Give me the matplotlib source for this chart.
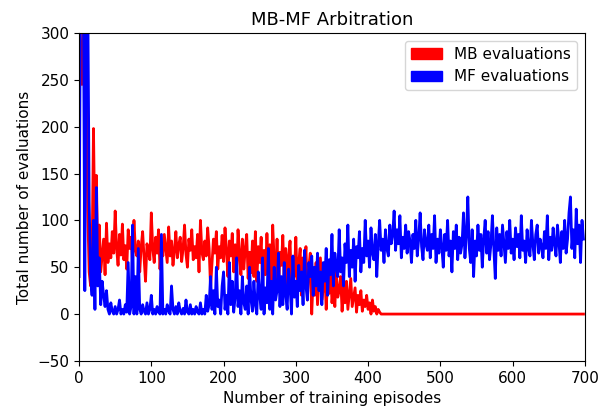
import matplotlib
matplotlib.use("Agg")
import matplotlib.pyplot as plt
from matplotlib.patches import Patch

episodes = list(range(0, 700, 2))

mb_evals = [
    350, 275, 245, 310, 330, 250, 110, 45, 30, 60,
    198, 75, 148, 55, 95, 45, 62, 80, 42, 97,
    55, 75, 60, 88, 65, 110, 70, 52, 85, 63,
    96, 58, 73, 48, 90, 70, 82, 55, 100, 68,
    62, 78, 45, 72, 88, 60, 35, 75, 66, 58,
    108, 70, 55, 82, 65, 90, 48, 76, 62, 85,
    70, 55, 93, 62, 78, 52, 68, 88, 60, 74,
    82, 56, 70, 95, 64, 50, 80, 68, 90, 58,
    72, 60, 85, 45, 100, 66, 58, 78, 62, 92,
    70, 28, 55, 80, 65, 88, 48, 72, 60, 84,
    56, 92, 68, 40, 78, 62, 86, 45, 74, 38,
    90, 64, 42, 80, 48, 70, 85, 38, 66, 44,
    78, 40, 88, 35, 72, 55, 82, 30, 68, 42,
    86, 48, 74, 30, 95, 58, 35, 80, 25, 66,
    52, 84, 30, 70, 25, 62, 78, 28, 58, 40,
    82, 30, 55, 70, 20, 60, 45, 72, 15, 50,
    65, 0, 40, 20, 55, 10, 35, 60, 15, 28,
    48, 5, 38, 22, 52, 12, 30, 8, 45, 18,
    25, 40, 3, 32, 12, 35, 5, 22, 38, 8,
    18, 28, 2, 20, 10, 25, 3, 15, 8, 20,
    5, 12, 0, 15, 3, 8, 0, 5, 2, 0,
] + [0] * 140

mf_evals = [
    40, 350, 350, 350, 25, 350, 350, 120, 40, 20,
    100, 5, 135, 30, 60, 10, 35, 20, 8, 25,
    5, 0, 12, 3, 0, 8, 0, 5, 15, 0,
    5, 0, 10, 2, 55, 0, 8, 95, 0, 40,
    0, 70, 5, 0, 10, 3, 0, 12, 0, 5,
    20, 0, 5, 0, 8, 2, 0, 85, 0, 5,
    0, 10, 3, 0, 30, 5, 0, 8, 0, 12,
    3, 0, 6, 0, 15, 2, 0, 10, 0, 5,
    0, 8, 2, 0, 12, 0, 5, 0, 20, 3,
    10, 40, 5, 25, 0, 50, 8, 15, 0, 30,
    45, 5, 20, 0, 55, 10, 35, 2, 18, 60,
    8, 25, 0, 40, 12, 5, 30, 0, 50, 15,
    3, 35, 10, 0, 45, 20, 5, 60, 0, 28,
    12, 70, 5, 35, 0, 50, 15, 25, 65, 8,
    40, 10, 55, 20, 5, 48, 30, 0, 62, 18,
    35, 8, 52, 25, 45, 10, 68, 30, 15, 55,
    40, 62, 20, 50, 30, 65, 25, 45, 10, 55,
    35, 70, 20, 58, 42, 85, 30, 65, 50, 40,
    90, 45, 60, 30, 75, 55, 95, 40, 68, 50,
    80, 35, 72, 60, 88, 45, 70, 55, 100, 62,
    78, 50, 92, 65, 58, 85, 40, 75, 100, 68,
    80, 55, 90, 70, 62, 95, 75, 85, 110, 68,
    90, 75, 105, 60, 82, 70, 95, 65, 88, 78,
    55, 85, 70, 100, 62, 80, 108, 72, 58, 90,
    75, 68, 95, 60, 85, 70, 105, 55, 80, 65,
    90, 72, 50, 85, 68, 100, 62, 78, 45, 88,
    70, 95, 58, 82, 65, 75, 108, 60, 85, 125,
    70, 55, 90, 40, 78, 62, 95, 68, 85, 50,
    80, 100, 65, 88, 58, 75, 105, 70, 38, 92,
    68, 85, 62, 95, 75, 55, 88, 70, 100, 65,
    80, 58, 92, 72, 85, 60, 105, 68, 78, 55,
    90, 70, 62, 100, 75, 58, 85, 95, 65, 80,
    72, 60, 88, 70, 105, 58, 82, 68, 92, 75,
    62, 95, 78, 55, 88, 70, 100, 65, 80, 108,
    125, 70, 90, 60, 112, 75, 95, 55, 100, 80,
]

series_labels = ["MB evaluations", "MF evaluations"]
series_colors = ["red", "blue"]

fig = plt.figure(figsize=(6.08, 4.12), dpi=100)
ax = fig.add_axes([0.130, 0.124, 0.832, 0.796])
ax.plot(episodes, mb_evals, color=series_colors[0], lw=2)
ax.plot(episodes, mf_evals, color=series_colors[1], lw=2)
ax.set_xlim(0, 700)
ax.set_ylim(-50, 300)
ax.set_yticks(range(-50, 301, 50))
ax.set_xticks(range(0, 701, 100))
ax.tick_params(labelsize=11)
ax.set_xlabel("Number of training episodes", fontsize=11)
ax.set_ylabel("Total number of evaluations", fontsize=11)
ax.set_title("MB-MF Arbitration", fontsize=13)
handles = [Patch(color=c, label=l) for c, l in zip(series_colors, series_labels)]
ax.legend(handles=handles, loc="upper right", fontsize=11)
fig.savefig("out.png", dpi=100)
